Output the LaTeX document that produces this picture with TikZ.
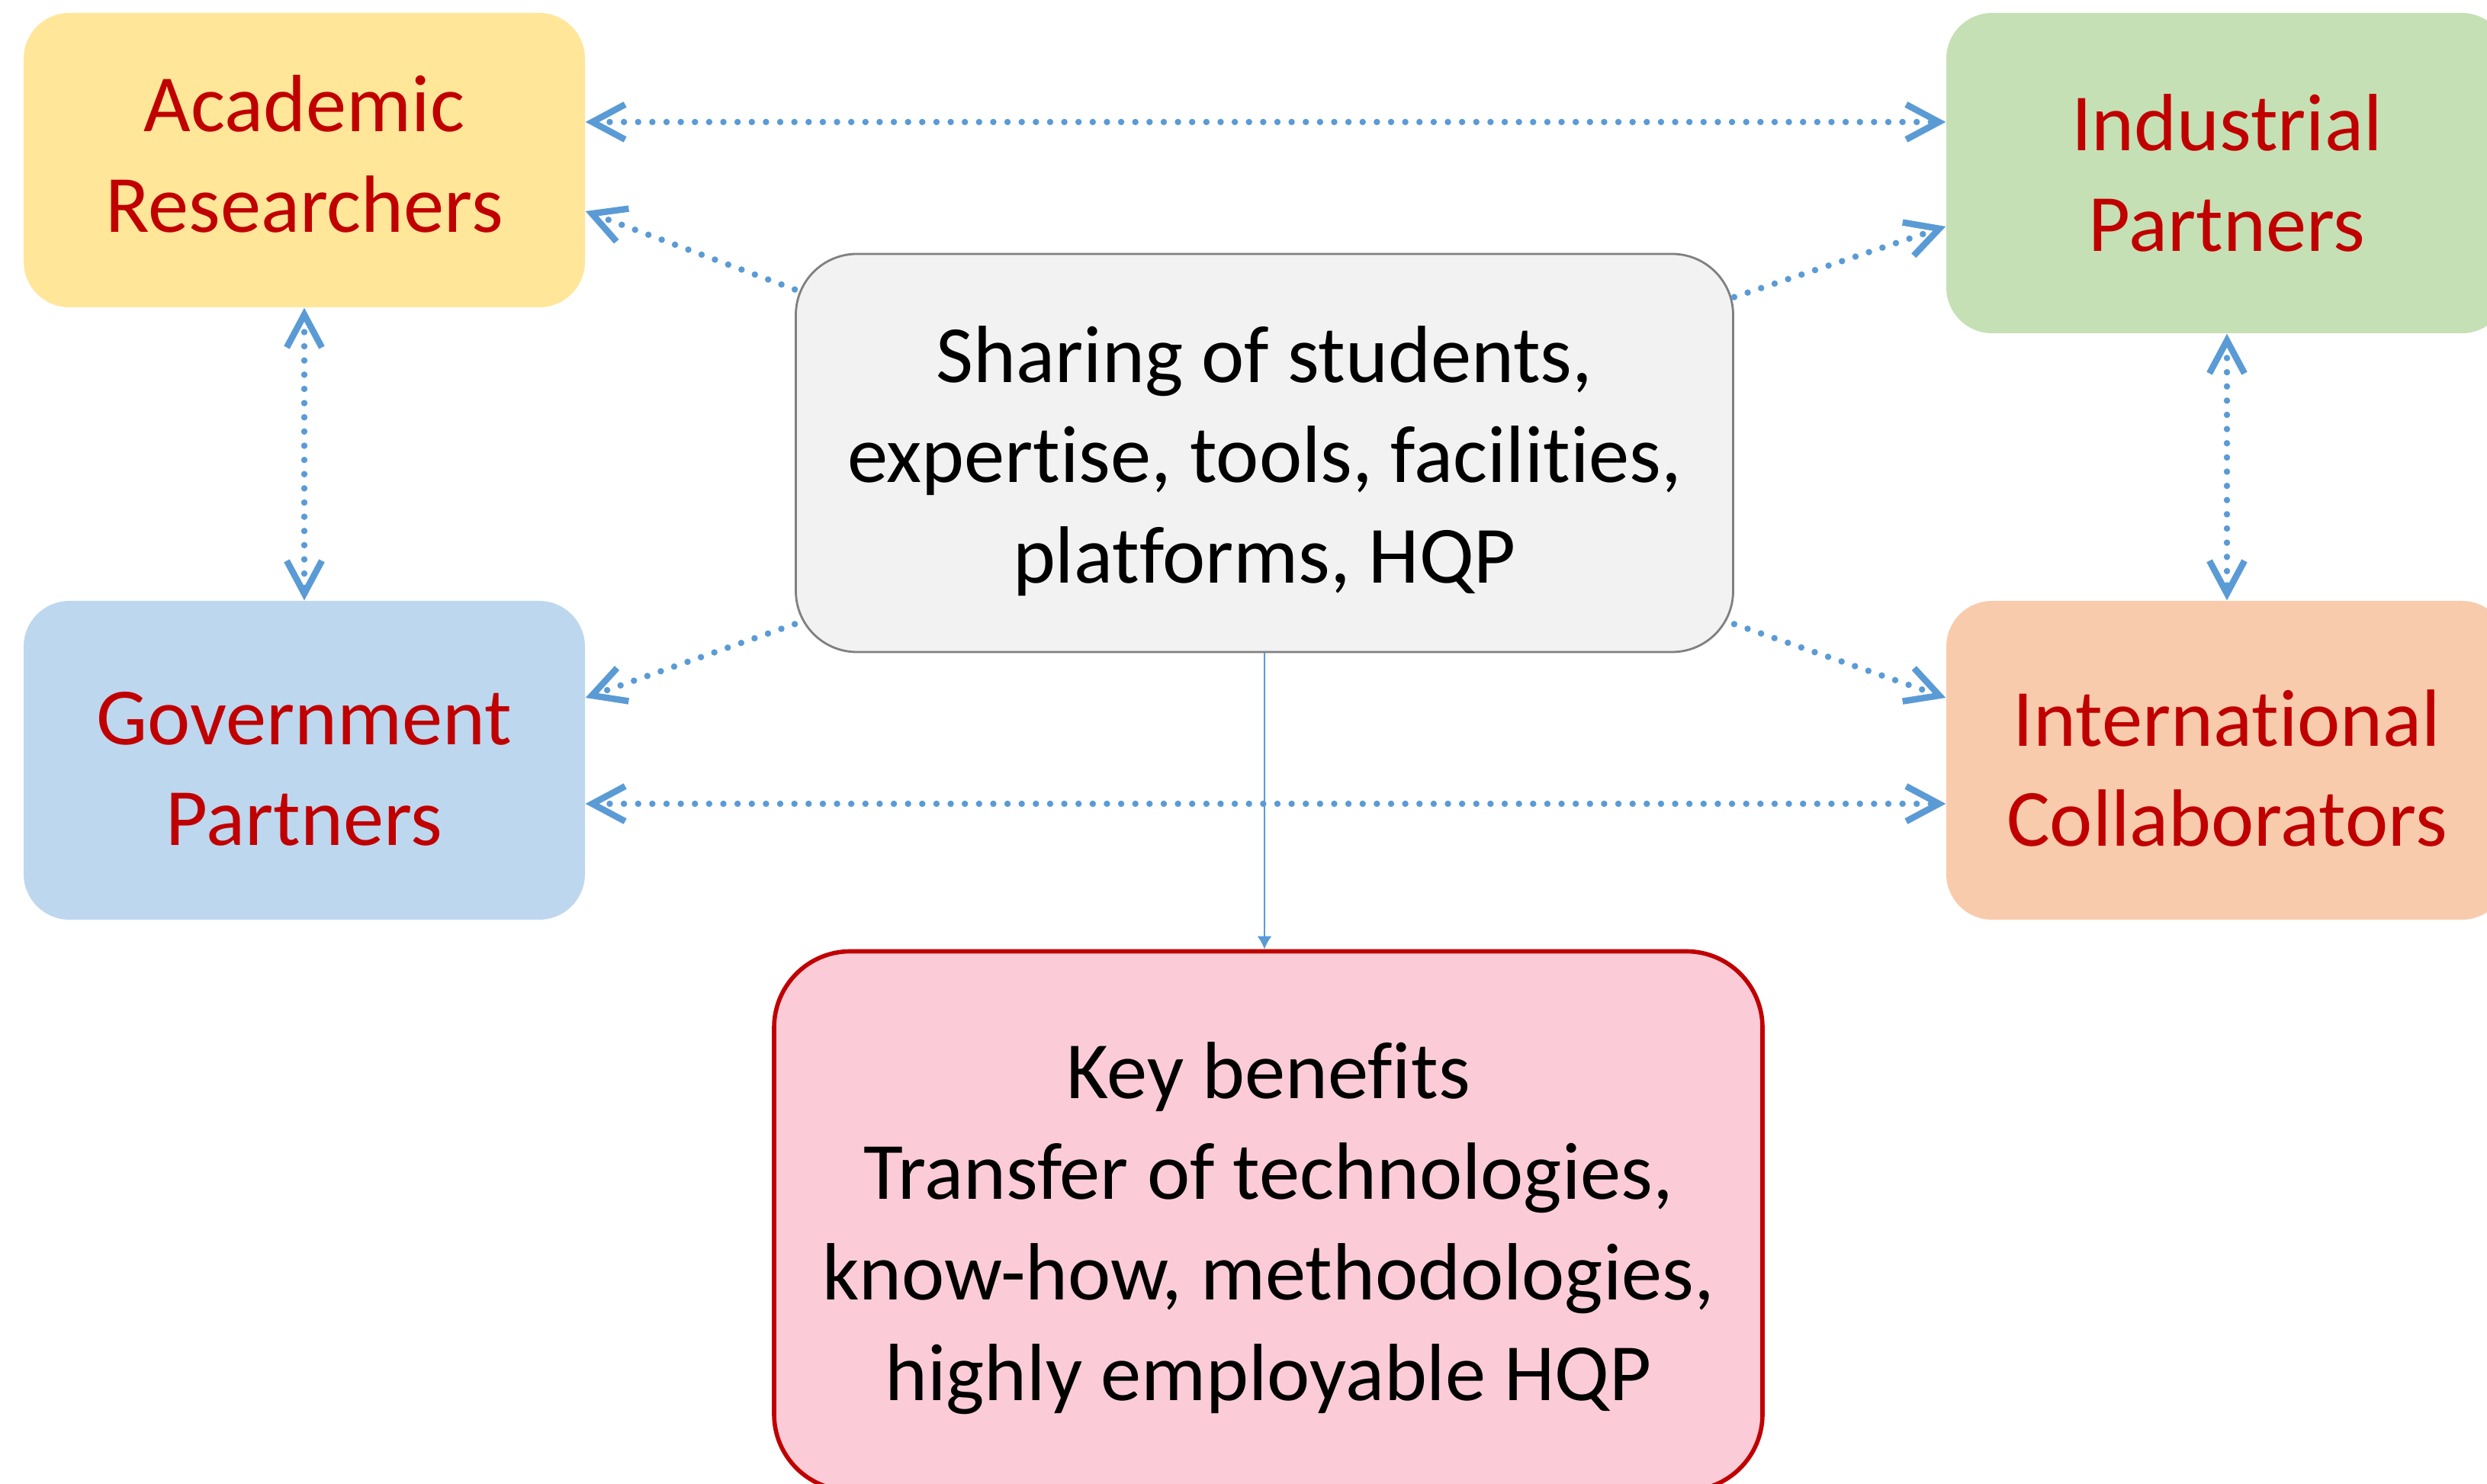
\documentclass[tikz,border=0pt]{standalone}
\usepackage{fontspec}
\setmainfont{Carlito}[Ligatures=NoCommon]
\usetikzlibrary{arrows.meta,positioning}
\definecolor{acadYellow}{HTML}{FFE699}
\definecolor{indGreen}{HTML}{C5E0B4}
\definecolor{govBlue}{HTML}{BDD7EE}
\definecolor{intOrange}{HTML}{F8CBAD}
\definecolor{hubGrey}{HTML}{F2F2F2}
\definecolor{hubEdge}{HTML}{808080}
\definecolor{keyPink}{HTML}{FBCCD7}
\definecolor{accRed}{HTML}{C00000}
\definecolor{linkBlue}{HTML}{5B9BD5}
% invisible struts to nudge a text block inside its box
\newcommand\padtop[1]{\rule{0pt}{#1}}
\newcommand\padbot[1]{\rule[-#1]{0pt}{0pt}}

\begin{document}
\begin{tikzpicture}[
  chev/.tip={Straight Barb[length=4.3mm,width=4.6mm]},
  party/.style={rounded corners=0.6cm, inner sep=0pt, minimum width=7.36cm, text=accRed, align=center, font=\fontsize{30.3}{37.5}\selectfont},
  hub/.style={draw=hubEdge, line width=0.8pt, fill=hubGrey, rounded corners=0.8cm, inner sep=0pt, minimum width=12.29cm, minimum height=5.22cm, align=center, font=\fontsize{30.3}{37.5}\selectfont},
  gain/.style={draw=accRed, line width=1.6pt, fill=keyPink, rounded corners=1.0cm, inner sep=0pt, minimum width=12.96cm, minimum height=7.07cm, align=center, font=\fontsize{30.3}{37.5}\selectfont},
  link/.style={linkBlue, line width=2.4pt, dash pattern=on 0pt off 5.3pt, line cap=round},
  feed/.style={linkBlue, line width=0.6pt, -{Latex[length=1.7mm,width=1.9mm]}},
]
\useasboundingbox (0,0) rectangle (32.61,19.45);
\clip (0,0) rectangle (32.61,19.45);
% ---- the four partners ----
\node[party, fill=acadYellow, minimum height=3.86cm] (acad) at (3.99,17.35) {Academic\\Researchers\padbot{4.6pt}};
\node[party, fill=indGreen, minimum height=4.20cm] (indus) at (29.20,17.18) {Industrial\\Partners};
\node[party, fill=govBlue, minimum height=4.18cm] (gov) at (3.99,9.48) {\padtop{26pt}Government\\Partners};
\node[party, fill=intOrange, minimum height=4.18cm] (intl) at (29.20,9.48) {\padtop{27pt}International\\Collaborators};
% ---- shared resources and outcome ----
\node[hub] (centre) at (16.58,13.51) {\padtop{27pt}Sharing of students,\\expertise, tools, facilities,\\platforms, HQP};
\node[gain] (key) at (16.63,3.44) {\padtop{26.5pt}Key benefits\\Transfer of technologies,\\know-how, methodologies,\\highly employable HQP};
% ---- partner to partner ----
\draw[link, chev-chev] ([yshift=5mm]acad.east) -- ([yshift=5mm]acad.east -| indus.west);
\draw[link, chev-chev] ([yshift=-5.7mm]gov.east) -- ([yshift=-5.7mm]gov.east -| intl.west);
\draw[link, chev-chev] (acad.south) -- (gov.north);
\draw[link, chev-chev] (indus.south) -- (intl.north);
% ---- hub out to partners ----
\draw[link, -chev] ([yshift=-4.8mm]centre.north west) -- ([yshift=-6.7mm]acad.east);
\draw[link, -chev] ([yshift=-5.8mm]centre.north east) -- ([yshift=-7mm]indus.west);
\draw[link, -chev] ([yshift=3.8mm]centre.south west) -- ([yshift=8.2mm]gov.east);
\draw[link, -chev] ([yshift=3.8mm]centre.south east) -- ([yshift=8.2mm]intl.west);
\draw[feed] (centre.south) -- (centre.south |- key.north);
\end{tikzpicture}
\end{document}
